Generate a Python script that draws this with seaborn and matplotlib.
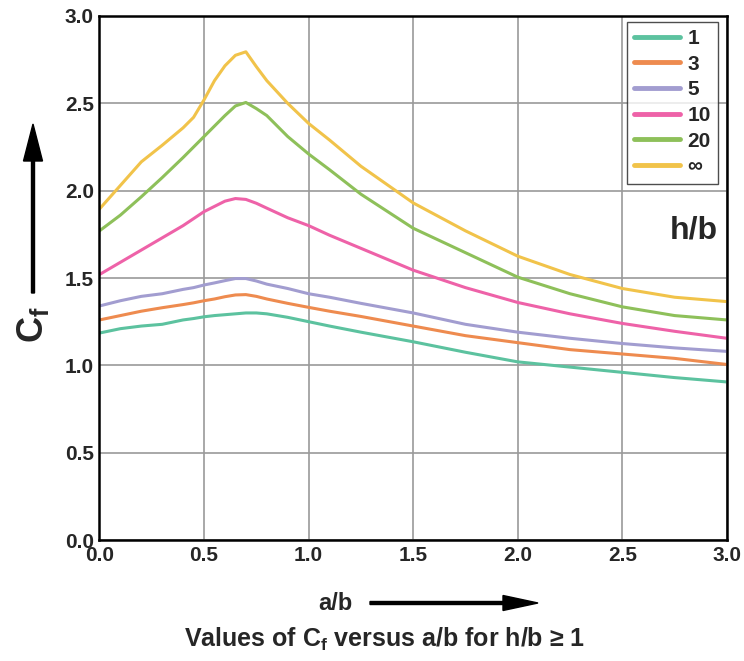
import matplotlib
matplotlib.use("Agg")
import matplotlib.pyplot as plt
from matplotlib.patches import FancyArrow
import seaborn as sns
import pandas as pd

# a/b values
ab = [0.0, 0.1, 0.2, 0.3, 0.4, 0.45, 0.5, 0.55, 0.6, 0.65, 0.7, 0.75, 0.8,
      0.9, 1.0, 1.1, 1.25, 1.5, 1.75, 2.0, 2.25, 2.5, 2.75, 3.0]

# Cf for each h/b
cf_1 = [1.185, 1.21, 1.225, 1.235, 1.26, 1.268, 1.278, 1.285, 1.29, 1.295,
        1.30, 1.30, 1.295, 1.275, 1.25, 1.225, 1.19, 1.135, 1.075, 1.02,
        0.99, 0.96, 0.93, 0.905]
cf_3 = [1.26, 1.285, 1.31, 1.33, 1.348, 1.358, 1.37, 1.38, 1.393, 1.403,
        1.405, 1.395, 1.38, 1.355, 1.332, 1.31, 1.28, 1.225, 1.17, 1.13,
        1.09, 1.065, 1.04, 1.005]
cf_5 = [1.34, 1.37, 1.395, 1.41, 1.435, 1.445, 1.46, 1.472, 1.485, 1.497,
        1.497, 1.483, 1.465, 1.44, 1.41, 1.39, 1.355, 1.30, 1.235, 1.19,
        1.155, 1.125, 1.10, 1.08]
cf_10 = [1.52, 1.59, 1.66, 1.73, 1.80, 1.84, 1.88, 1.91, 1.94, 1.955,
         1.95, 1.928, 1.90, 1.845, 1.80, 1.745, 1.67, 1.545, 1.445, 1.36,
         1.295, 1.24, 1.195, 1.155]
cf_20 = [1.77, 1.86, 1.965, 2.075, 2.19, 2.25, 2.31, 2.37, 2.43, 2.485,
         2.505, 2.47, 2.43, 2.31, 2.21, 2.12, 1.98, 1.785, 1.645, 1.505,
         1.41, 1.335, 1.285, 1.26]
cf_inf = [1.895, 2.03, 2.165, 2.26, 2.36, 2.42, 2.52, 2.63, 2.715, 2.775,
          2.795, 2.71, 2.63, 2.50, 2.385, 2.29, 2.14, 1.93, 1.77, 1.625,
          1.52, 1.44, 1.39, 1.365]

hb_labels = ["1", "3", "5", "10", "20", "\u221e"]
colors = ["#5cc29f", "#ee8b4f", "#a29dd0", "#ee62a8", "#8ec05a", "#f1c34a"]

rows = []
for lab, vals in zip(hb_labels, [cf_1, cf_3, cf_5, cf_10, cf_20, cf_inf]):
    for x, y in zip(ab, vals):
        rows.append({"a/b": x, "Cf": y, "h/b": lab})
df = pd.DataFrame(rows)

sns.set_style("whitegrid")
plt.rcParams["font.family"] = ["Liberation Sans", "DejaVu Sans"]
plt.rcParams["font.weight"] = "bold"
plt.rcParams["mathtext.fontset"] = "custom"
plt.rcParams["mathtext.default"] = "bf"
plt.rcParams["mathtext.bf"] = "Liberation Sans:bold"

fig = plt.figure(figsize=(7.44, 6.61), dpi=100)
ax = fig.add_axes([0.1337, 0.183, 0.8433, 0.7928])

sns.lineplot(data=df, x="a/b", y="Cf", hue="h/b", hue_order=hb_labels,
             palette=dict(zip(hb_labels, colors)), linewidth=2.2, ax=ax)
for line in ax.get_lines():
    line.set_solid_joinstyle("round")

ax.set_xlim(0, 3)
ax.set_ylim(0, 3)
ax.set_xticks([0, 0.5, 1.0, 1.5, 2.0, 2.5, 3.0])
ax.set_yticks([0, 0.5, 1.0, 1.5, 2.0, 2.5, 3.0])
ax.set_xticklabels(["0.0", "0.5", "1.0", "1.5", "2.0", "2.5", "3.0"])
ax.set_yticklabels(["0.0", "0.5", "1.0", "1.5", "2.0", "2.5", "3.0"])
ax.tick_params(labelsize=15, pad=4, length=0)
for t in ax.get_xticklabels() + ax.get_yticklabels():
    t.set_fontweight("bold")
ax.grid(True, color="#9a9a9a", linewidth=1.2)
for s in ax.spines.values():
    s.set_color("black")
    s.set_linewidth(1.8)
ax.set_xlabel("")
ax.set_ylabel("")

leg = ax.legend(loc="upper right", bbox_to_anchor=(0.9857, 0.989),
                borderaxespad=0, fontsize=15, frameon=True, fancybox=False,
                handlelength=2.2, labelspacing=0.32, borderpad=0.35,
                handletextpad=0.35)
leg.get_frame().set_edgecolor("#222222")
leg.get_frame().set_linewidth(1.0)
for line in leg.get_lines():
    line.set_linewidth(3.5)
for t in leg.get_texts():
    t.set_fontweight("bold")

ax.text(0.9857, 0.59, "h/b", transform=ax.transAxes, ha="right", va="center",
        fontsize=23, fontweight="bold")

# y label with arrow
fig.text(33 / 744, 1 - 325 / 661, "$C_f$", rotation=90, ha="center",
         va="center", fontsize=26)
fig.add_artist(FancyArrow(0.33, (661 - 293) / 100, 0, 1.69, width=0.03,
                          head_width=0.19, head_length=0.37,
                          length_includes_head=True, color="black",
                          transform=fig.dpi_scale_trans))

# x label with arrow
fig.text(335 / 744, 1 - 603 / 661, "a/b", ha="center", va="center",
         fontsize=17, fontweight="bold")
fig.add_artist(FancyArrow(3.70, (661 - 603) / 100, 1.68, 0, width=0.03,
                          head_width=0.15, head_length=0.35,
                          length_includes_head=True, color="black",
                          transform=fig.dpi_scale_trans))

fig.text(385 / 744, 1 - 639 / 661,
         "Values of $C_f$ versus a/b for h/b \u2265 1",
         ha="center", va="center", fontsize=18, fontweight="bold")

fig.savefig("out.png", dpi=100)
